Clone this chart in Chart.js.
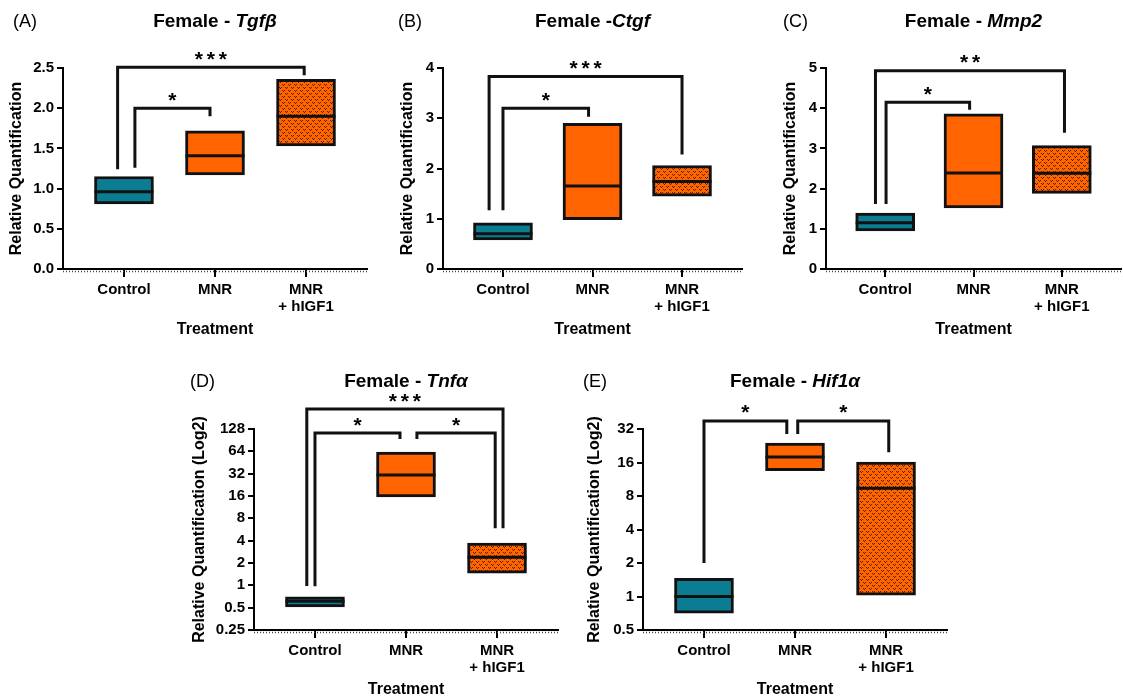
<!DOCTYPE html>
<html>
<head>
<meta charset="utf-8">
<script src="https://cdn.jsdelivr.net/npm/chart.js@4.4.0/dist/chart.umd.min.js"></script>
<style>
  html, body { margin: 0; padding: 0; background: #fff; }
  #wrap { position: relative; width: 1123px; height: 700px; overflow: hidden; }
  canvas { position: absolute; }
</style>
</head>
<body>
<div id="wrap">
  <canvas id="cA"></canvas>
  <canvas id="cB"></canvas>
  <canvas id="cC"></canvas>
  <canvas id="cD"></canvas>
  <canvas id="cE"></canvas>
</div>
<script>
// groups on the x axis
const categories = ['Control', 'MNR', ['MNR', '+ hIGF1']];

// box bottom / top / median line for each group
const tgfbLow = [0.81, 1.17, 1.53];
const tgfbHigh = [1.15, 1.72, 2.36];
const tgfbMedian = [0.96, 1.41, 1.90];

const ctgfLow = [0.58, 0.98, 1.45];
const ctgfHigh = [0.92, 2.90, 2.06];
const ctgfMedian = [0.70, 1.65, 1.74];

const mmp2Low = [0.95, 1.52, 1.88];
const mmp2High = [1.39, 3.86, 3.07];
const mmp2Median = [1.15, 2.39, 2.38];

const tnfaLow = [0.51, 15.5, 1.46];
const tnfaHigh = [0.70, 62.7, 3.7];
const tnfaMedian = [0.61, 30.7, 2.4];

const hif1aLow = [0.71, 13.5, 1.03];
const hif1aHigh = [1.46, 23.9, 16.1];
const hif1aMedian = [1.0, 17.9, 9.4];

// y tick labels
const tgfbTicks = [0, 0.5, 1, 1.5, 2, 2.5];
const ctgfTicks = [0, 1, 2, 3, 4];
const mmp2Ticks = [0, 1, 2, 3, 4, 5];
const tnfaTicks = [0.25, 0.5, 1, 2, 4, 8, 16, 32, 64, 128];
const hif1aTicks = [0.5, 1, 2, 4, 8, 16, 32];

// significance brackets: [from group, to group, top value, left foot, right foot, stars]
const tgfbSig = [[-0.07, 1.98, 2.51, 1.24, 2.41, '***'], [0.12, 0.945, 2.0, 1.26, 1.9, '*']];
const ctgfSig = [[-0.155, 2.0, 3.83, 1.17, 2.28, '***'], [0, 0.956, 3.2, 1.17, 3.03, '*']];
const mmp2Sig = [[-0.11, 2.03, 4.93, 1.62, 3.39, '**'], [0.01, 0.956, 4.15, 1.62, 3.96, '*']];
const tnfaSig = [[-0.09, 2.066, 238, 0.98, 5.9, '***'], [0, 0.934, 113, 0.97, 94, '*'], [1.12, 1.98, 113, 94, 5.9, '*']];
const hif1aSig = [[0, 0.91, 37.8, 2.0, 28.8, '*'], [1.03, 2.03, 37.8, 28.8, 19.8, '*']];

Chart.defaults.font.family = "'Liberation Sans', Arial, sans-serif";
Chart.defaults.color = '#000';

const TEAL = '#0a7d93', ORANGE = '#ff6400', INK = '#111';
const FONT = "'Liberation Sans', Arial, sans-serif";

function makePattern(cv) {
  const c = document.createElement('canvas');
  c.width = 6; c.height = 6;
  const g = c.getContext('2d');
  g.fillStyle = ORANGE;
  g.fillRect(0, 0, 6, 6);
  g.fillStyle = '#5a2300';
  [[0, 0], [2, 0], [1, 1], [3, 3], [5, 3], [4, 4]].forEach(p => g.fillRect(p[0], p[1], 1, 1));
  return cv.getContext('2d').createPattern(c, 'repeat');
}

function panelPlugin(p) {
  return {
    id: 'panel' + p.id,
    afterDraw(chart) {
      const ctx = chart.ctx, xs = chart.scales.x, ys = chart.scales.y, a = chart.chartArea;
      ctx.save();
      // median lines
      const meta = chart.getDatasetMeta(0);
      ctx.strokeStyle = INK; ctx.lineWidth = 3;
      meta.data.forEach((bar, i) => {
        const y = ys.getPixelForValue(p.median[i]);
        ctx.beginPath();
        ctx.moveTo(bar.x - bar.width / 2, y);
        ctx.lineTo(bar.x + bar.width / 2, y);
        ctx.stroke();
      });
      // dotted baseline under the x axis
      ctx.setLineDash([1, 2]);
      ctx.lineWidth = 1.5; ctx.strokeStyle = '#444';
      ctx.beginPath();
      ctx.moveTo(a.left, a.bottom + 2.5); ctx.lineTo(a.right, a.bottom + 2.5);
      ctx.stroke();
      ctx.setLineDash([]);
      // brackets and stars
      ctx.strokeStyle = INK; ctx.lineWidth = 3; ctx.lineJoin = 'miter';
      ctx.fillStyle = '#000';
      ctx.font = 'bold 21px ' + FONT;
      ctx.textAlign = 'center'; ctx.textBaseline = 'alphabetic';
      p.sig.forEach(s => {
        const x1 = xs.getPixelForValue(s[0]), x2 = xs.getPixelForValue(s[1]);
        const yt = ys.getPixelForValue(s[2]);
        ctx.beginPath();
        ctx.moveTo(x1, ys.getPixelForValue(s[3]));
        ctx.lineTo(x1, yt);
        ctx.lineTo(x2, yt);
        ctx.lineTo(x2, ys.getPixelForValue(s[4]));
        ctx.stroke();
        const n = s[5].length, cx = (x1 + x2) / 2;
        for (let k = 0; k < n; k++) {
          ctx.fillText('*', cx + (k - (n - 1) / 2) * 12, yt - 12 + 10.5);
        }
      });
      // panel letter
      ctx.textBaseline = 'middle';
      ctx.textAlign = 'left';
      ctx.font = '18px ' + FONT;
      ctx.fillText(p.label, p.labelX, p.titleY);
      // title with italic gene name
      const f1 = 'bold 19px ' + FONT, f2 = 'italic bold 19px ' + FONT;
      ctx.font = f1; const w1 = ctx.measureText(p.title[0]).width;
      ctx.font = f2; const w2 = ctx.measureText(p.title[1]).width;
      const tx = (a.left + a.right) / 2 - (w1 + w2) / 2;
      ctx.font = f1; ctx.fillText(p.title[0], tx, p.titleY);
      ctx.font = f2; ctx.fillText(p.title[1], tx + w1, p.titleY);
      ctx.restore();
    }
  };
}

function buildChart(p) {
  const cv = document.getElementById(p.id);
  const [bl, bt, bw, bh] = p.box;
  cv.width = bw; cv.height = bh;
  cv.style.left = bl + 'px'; cv.style.top = bt + 'px';
  const yw = p.area[0] - bl;
  const xh = bt + bh - p.area[3];
  const fills = [TEAL, ORANGE, makePattern(cv)];
  const tickFont = { size: 15, weight: 'bold', lineHeight: 1.15 };
  const titleFont = { size: 16, weight: 'bold' };

  new Chart(cv, {
    type: 'bar',
    data: {
      datasets: [{
        data: categories.map((c, i) => ({ x: i, y: [p.low[i], p.high[i]] })),
        backgroundColor: fills,
        borderColor: INK,
        borderWidth: 3,
        borderSkipped: false,
        barThickness: 59
      }]
    },
    options: {
      responsive: false,
      animation: false,
      devicePixelRatio: 1,
      layout: { padding: { left: 0, top: p.area[1] - bt, right: bl + bw - p.area[2], bottom: 0 } },
      plugins: { legend: { display: false }, tooltip: { enabled: false } },
      scales: {
        x: {
          type: 'linear', min: -0.67, max: 2.67, offset: false,
          afterBuildTicks: s => { s.ticks = categories.map((c, i) => ({ value: i })); },
          afterFit: s => { s.height = xh; },
          ticks: { callback: v => categories[v], font: tickFont, padding: 4, maxRotation: 0, autoSkip: false, color: '#000' },
          grid: { offset: false, drawOnChartArea: false, drawTicks: true, tickLength: 8, color: '#000', lineWidth: 2 },
          border: { display: true, color: '#000', width: 2 },
          title: { display: true, text: 'Treatment', font: titleFont, color: '#000', padding: { top: 0, bottom: p.xTitlePad } }
        },
        y: {
          type: p.log ? 'logarithmic' : 'linear',
          min: p.ticks[0], max: p.ticks[p.ticks.length - 1],
          afterBuildTicks: s => { s.ticks = p.ticks.map(v => ({ value: v })); },
          afterFit: s => { s.width = yw; },
          ticks: { callback: p.fmt, font: tickFont, padding: 3, color: '#000', autoSkip: false },
          grid: { drawOnChartArea: false, drawTicks: true, tickLength: 6, color: '#000', lineWidth: 2 },
          border: { display: true, color: '#000', width: 2 },
          title: { display: true, text: p.yTitle, font: titleFont, color: '#000', padding: { top: p.yTitlePad, bottom: 0 } }
        }
      }
    },
    plugins: [panelPlugin(p)]
  });
}

const relQ = 'Relative Quantification';
const relQLog = 'Relative Quantification (Log2)';

buildChart({ id: 'cA', box: [0, 0, 375, 345], area: [63, 68, 367, 269], low: tgfbLow, high: tgfbHigh, median: tgfbMedian,
  ticks: tgfbTicks, fmt: v => v.toFixed(1), yTitle: relQ, yTitlePad: 6.9, xTitlePad: 5.4, sig: tgfbSig,
  label: '(A)', labelX: 13, title: ['Female - ', 'Tgf\u03b2'], titleY: 22 });

buildChart({ id: 'cB', box: [390, 0, 362, 345], area: [443, 68, 742, 269], low: ctgfLow, high: ctgfHigh, median: ctgfMedian,
  ticks: ctgfTicks, fmt: v => String(v), yTitle: relQ, yTitlePad: 7.9, xTitlePad: 5.4, sig: ctgfSig,
  label: '(B)', labelX: 8, title: ['Female -', 'Ctgf'], titleY: 22 });

buildChart({ id: 'cC', box: [774, 0, 349, 345], area: [826, 68, 1121, 269], low: mmp2Low, high: mmp2High, median: mmp2Median,
  ticks: mmp2Ticks, fmt: v => String(v), yTitle: relQ, yTitlePad: 7.4, xTitlePad: 5.4, sig: mmp2Sig,
  label: '(C)', labelX: 9, title: ['Female - ', 'Mmp2'], titleY: 22 });

buildChart({ id: 'cD', box: [182, 345, 384, 355], area: [254, 429, 558, 630], log: true, low: tnfaLow, high: tnfaHigh, median: tnfaMedian,
  ticks: tnfaTicks, fmt: v => String(v), yTitle: relQLog, yTitlePad: 7.9, xTitlePad: 0.4, sig: tnfaSig,
  label: '(D)', labelX: 8, title: ['Female - ', 'Tnf\u03b1'], titleY: 37 });

buildChart({ id: 'cE', box: [578, 345, 377, 355], area: [643, 429, 947, 630], log: true, low: hif1aLow, high: hif1aHigh, median: hif1aMedian,
  ticks: hif1aTicks, fmt: v => String(v), yTitle: relQLog, yTitlePad: 7.4, xTitlePad: 0.4, sig: hif1aSig,
  label: '(E)', labelX: 5, title: ['Female - ', 'Hif1\u03b1'], titleY: 37 });
</script>
</body>
</html>
